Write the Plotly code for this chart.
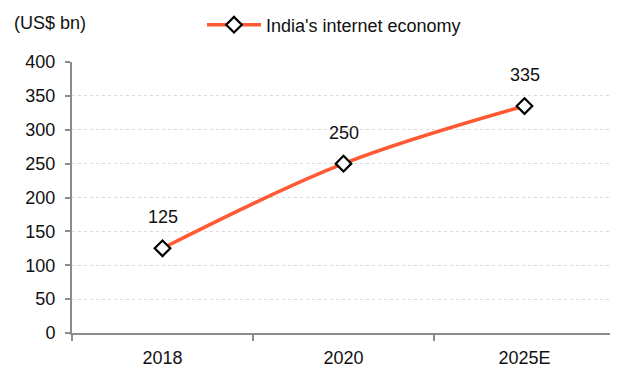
import plotly.graph_objects as go

categories = ["2018", "2020", "2025E"]
values = [125, 250, 335]
series_name = "India's internet economy"
y_ticks = [0, 50, 100, 150, 200, 250, 300, 350, 400]

FONT = "Liberation Sans, Arial, sans-serif"
FS = 18
LINE_COLOR = "#FF5A33"
AXIS_COLOR = "#8C8C8C"
TEXT_COLOR = "#111111"

# page body has an 8px offset; figure is sized/placed to compensate
W, H = 610, 362
L, R, T, B = 64, 3, 54, 37
PW, PH = W - L - R, H - T - B

fig = go.Figure()
fig.add_trace(go.Scatter(
    x=categories, y=values, name=series_name,
    mode="lines+markers",
    line=dict(color=LINE_COLOR, width=3.5, shape="spline", smoothing=1),
    marker=dict(symbol="diamond", size=12, color="white",
                line=dict(color="black", width=2.2)),
))

for i, v in enumerate(values):
    fig.add_annotation(x=i, y=v, xref="x", yref="y", text=str(v), showarrow=False,
                       yshift=31, font=dict(size=FS, color=TEXT_COLOR, family=FONT))

fig.add_annotation(xref="paper", yref="paper", x=(4 - L) / PW, y=1 + (T - 15) / PH,
                   xanchor="left", yanchor="middle", text="(US$ bn)",
                   showarrow=False, font=dict(size=FS, color=TEXT_COLOR, family=FONT))

fig.update_layout(
    width=W, height=H,
    margin=dict(l=L, r=R, t=T, b=B, autoexpand=False),
    paper_bgcolor="white", plot_bgcolor="white",
    font=dict(family=FONT, size=FS, color=TEXT_COLOR),
    showlegend=True,
    legend=dict(orientation="h", x=194 / W, xanchor="left", xref="container",
                y=1 - 17 / H, yref="container", yanchor="middle",
                font=dict(size=FS, family=FONT, color=TEXT_COLOR), itemwidth=54,
                bgcolor="rgba(0,0,0,0)"),
)

fig.update_xaxes(
    type="category", range=[-0.5, 2.5], tickson="boundaries", showline=True,
    linecolor=AXIS_COLOR, linewidth=2, ticks="outside", ticklen=6,
    tickcolor=AXIS_COLOR, tickwidth=1.5, tickangle=0, automargin=False,
    ticklabelstandoff=7,
    showgrid=False, zeroline=False, tickfont=dict(size=FS, family=FONT, color=TEXT_COLOR),
)
fig.update_yaxes(
    range=[0, 400], tickvals=y_ticks, showline=True, linecolor=AXIS_COLOR,
    linewidth=2, ticks="outside", ticklen=5, tickcolor=AXIS_COLOR, tickwidth=1.5,
    showgrid=True, gridcolor="#D9D9D9", griddash="dot", gridwidth=1, automargin=False,
    ticklabelstandoff=6,
    zeroline=False, tickfont=dict(size=FS, family=FONT, color=TEXT_COLOR),
)

fig.write_html("out.html")
